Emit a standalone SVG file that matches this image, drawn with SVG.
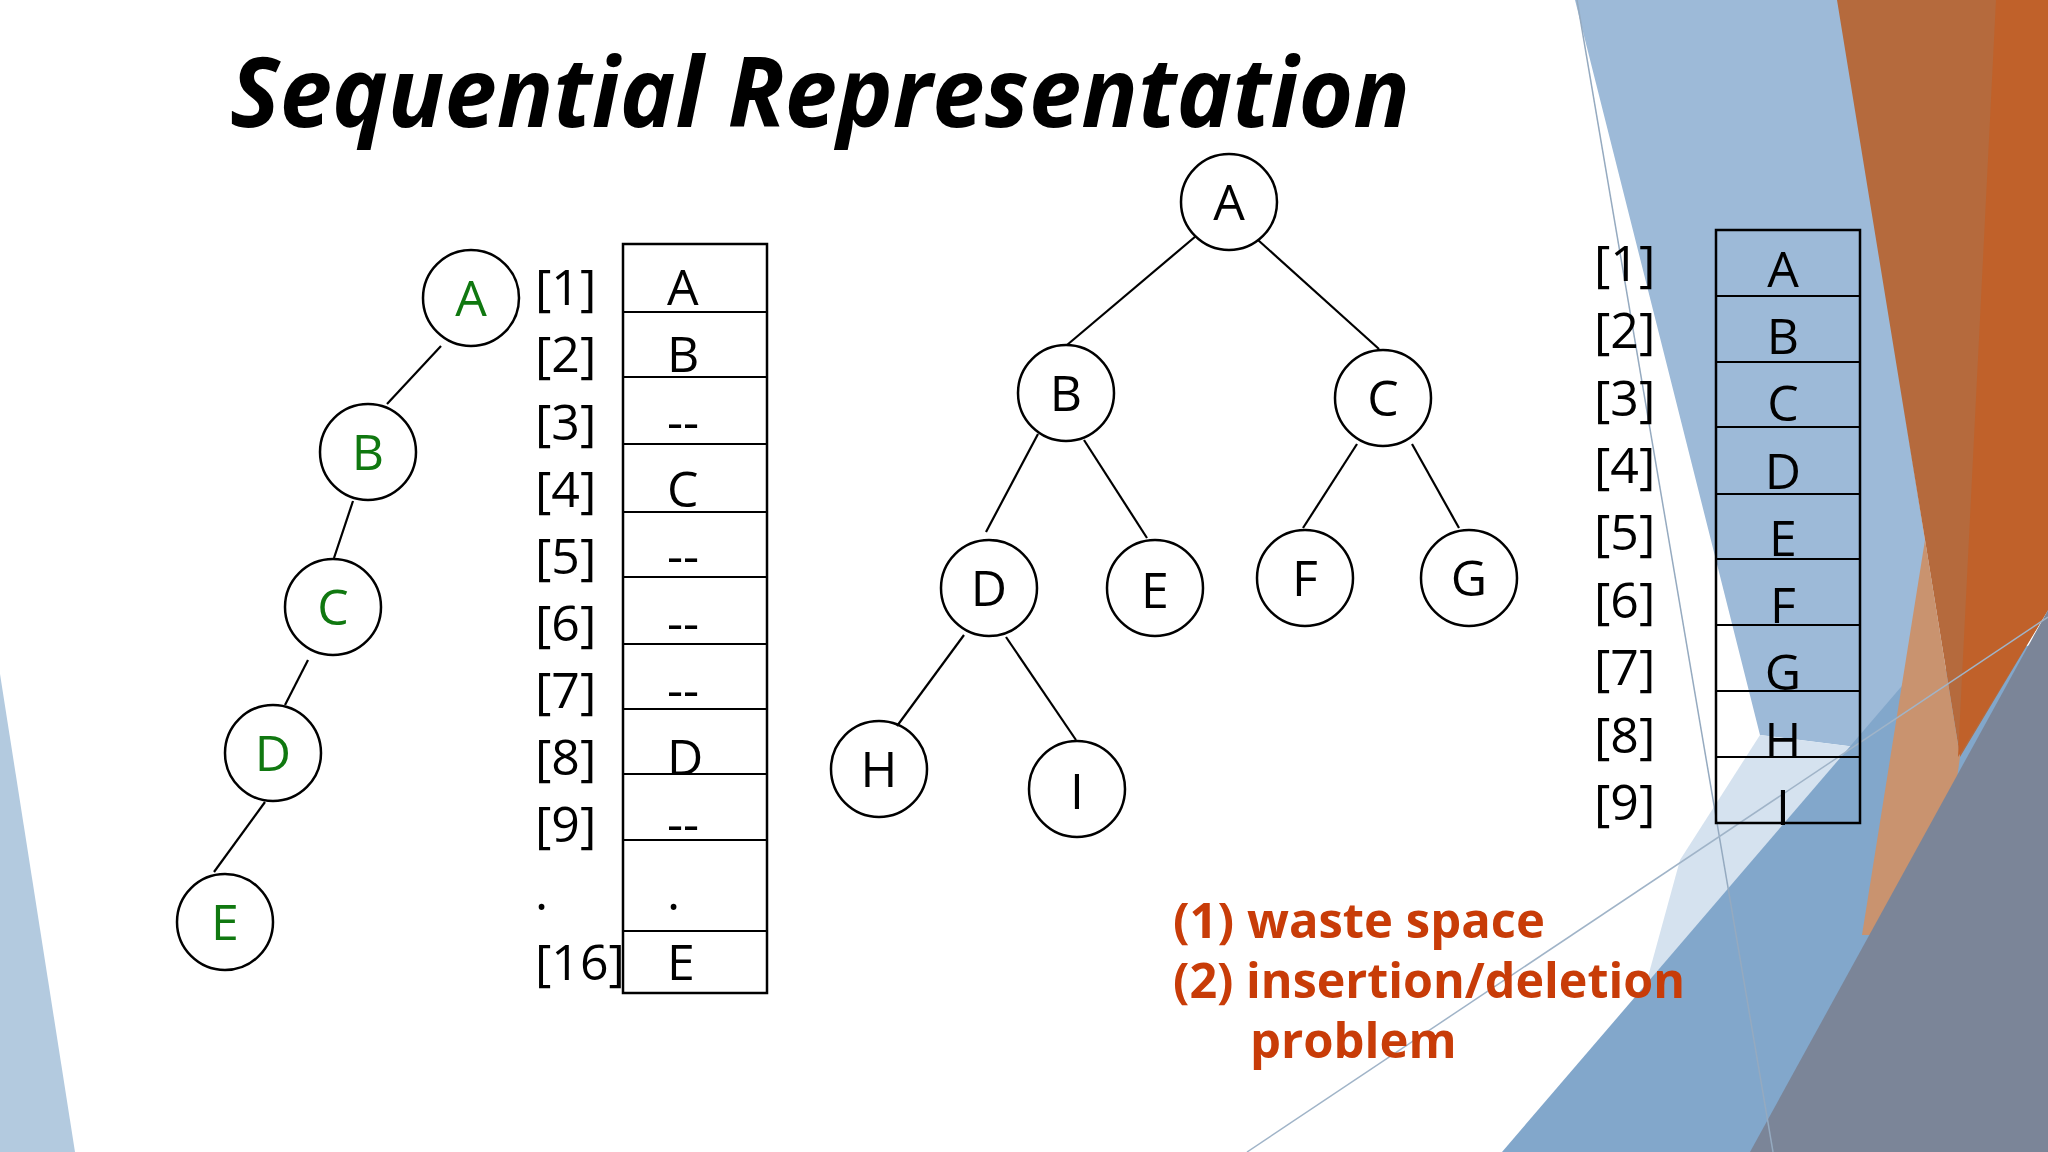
<svg xmlns="http://www.w3.org/2000/svg" width="2048" height="1152" viewBox="0 0 2048 1152">
<style>
.t{font-family:"Open Sans","DejaVu Sans",sans-serif;fill:#000}
.n{fill:none;stroke:#000;stroke-width:2.5}
.l{font-size:50px;text-anchor:middle}
.g{fill:#107810}
.e{stroke:#000;stroke-width:2.2}
.c{fill:none;stroke:#000;stroke-width:2.5}
.ix{font-size:50px}
.o{font-family:"Open Sans","DejaVu Sans",sans-serif;font-size:49px;font-weight:bold;fill:#c83c08}
</style>
<rect width="2048" height="1152" fill="#fff"/>
<g id="background">
<polygon points="0,674 75,1152 0,1152" fill="#b3cadf"/>
<polygon points="1575,0 1840,0 1925,540 1960,760 1760,735" fill="#9dbad8"/>
<polygon points="1680,860 1760,735 1960,760 1930,940 1700,1152 1600,1152" fill="#d5e2ef"/>
<polygon points="1502,1152 1907,680 2048,640 2048,1152" fill="#82a7cb"/>
<polygon points="1837,0 2048,0 2048,610 1960,757 1925,540" fill="#b56a3d"/>
<polygon points="1925,540 1960,757 1935,935 1862,935" fill="#c9936f"/>
<polygon points="1996,0 2048,0 2048,610 1958,757" fill="#c0612a"/>
<polygon points="2048,610 1750,1152 2048,1152" fill="#7b8598"/>
<line x1="1577" y1="0" x2="1773" y2="1152" stroke="#95aac0" stroke-width="1.5"/>
<line x1="1247" y1="1152" x2="2048" y2="617" stroke="#a0b4c8" stroke-width="1.5"/>
</g>
<text class="t" x="230" y="127" font-size="96" font-weight="bold" font-style="italic" textLength="1180" lengthAdjust="spacingAndGlyphs">Sequential Representation</text>
<g id="connectors">
<line class="e" x1="441" y1="346" x2="387" y2="404"/>
<line class="e" x1="353" y1="501" x2="334" y2="558"/>
<line class="e" x1="308" y1="660" x2="285" y2="705"/>
<line class="e" x1="265" y1="802" x2="214" y2="872"/>
<line class="e" x1="1196" y1="236" x2="1067" y2="345"/>
<line class="e" x1="1258" y1="240" x2="1379" y2="349"/>
<line class="e" x1="1038" y1="434" x2="986" y2="532"/>
<line class="e" x1="1084" y1="440" x2="1147" y2="538"/>
<line class="e" x1="1357" y1="444" x2="1303" y2="528"/>
<line class="e" x1="1412" y1="444" x2="1459" y2="528"/>
<line class="e" x1="964" y1="635" x2="897" y2="726"/>
<line class="e" x1="1006" y1="637" x2="1076" y2="740"/>
</g>
<g id="lA"><circle class="n" cx="471" cy="298" r="48"/><text class="t l g" x="471" y="316">A</text></g>
<g id="lB"><circle class="n" cx="368" cy="452" r="48"/><text class="t l g" x="368" y="470">B</text></g>
<g id="lC"><circle class="n" cx="333" cy="607" r="48"/><text class="t l g" x="333" y="625">C</text></g>
<g id="lD"><circle class="n" cx="273" cy="753" r="48"/><text class="t l g" x="273" y="771">D</text></g>
<g id="lE"><circle class="n" cx="225" cy="922" r="48"/><text class="t l g" x="225" y="940">E</text></g>
<g id="left-array">
<rect class="c" x="623" y="244" width="144" height="749"/>
<path class="e" d="M623 312H767M623 377H767M623 444H767M623 512H767M623 577H767M623 644H767M623 709H767M623 774H767M623 840H767M623 931H767"/>
<g class="t ix">
<text x="535" y="305">[1]</text><text x="535" y="372">[2]</text><text x="535" y="440">[3]</text><text x="535" y="507">[4]</text><text x="535" y="574">[5]</text><text x="535" y="641">[6]</text><text x="535" y="708">[7]</text><text x="535" y="775">[8]</text><text x="535" y="842">[9]</text><text x="535" y="910">.</text><text x="535" y="980">[16]</text>
<text x="667" y="305">A</text><text x="667" y="372">B</text><text x="667" y="440">--</text><text x="667" y="507">C</text><text x="667" y="574">--</text><text x="667" y="641">--</text><text x="667" y="708">--</text><text x="667" y="775">D</text><text x="667" y="842">--</text><text x="667" y="910">.</text><text x="667" y="980">E</text>
</g>
</g>
<g id="mA"><circle class="n" cx="1229" cy="202" r="48"/><text class="t l" x="1229" y="220">A</text></g>
<g id="mB"><circle class="n" cx="1066" cy="393" r="48"/><text class="t l" x="1066" y="411">B</text></g>
<g id="mC"><circle class="n" cx="1383" cy="398" r="48"/><text class="t l" x="1383" y="416">C</text></g>
<g id="mD"><circle class="n" cx="989" cy="588" r="48"/><text class="t l" x="989" y="606">D</text></g>
<g id="mE"><circle class="n" cx="1155" cy="588" r="48"/><text class="t l" x="1155" y="608">E</text></g>
<g id="mF"><circle class="n" cx="1305" cy="578" r="48"/><text class="t l" x="1305" y="596">F</text></g>
<g id="mG"><circle class="n" cx="1469" cy="578" r="48"/><text class="t l" x="1469" y="596">G</text></g>
<g id="mH"><circle class="n" cx="879" cy="769" r="48"/><text class="t l" x="879" y="787">H</text></g>
<g id="mI"><circle class="n" cx="1077" cy="789" r="48"/><text class="t l" x="1077" y="809">I</text></g>
<g id="right-array">
<rect class="c" x="1716" y="230" width="144" height="593"/>
<path class="e" d="M1716 296H1860M1716 362H1860M1716 427H1860M1716 494H1860M1716 559H1860M1716 625H1860M1716 691H1860M1716 757H1860"/>
<g class="t ix">
<text x="1594" y="281">[1]</text><text x="1594" y="348">[2]</text><text x="1594" y="416">[3]</text><text x="1594" y="483">[4]</text><text x="1594" y="550">[5]</text><text x="1594" y="618">[6]</text><text x="1594" y="685">[7]</text><text x="1594" y="753">[8]</text><text x="1594" y="820">[9]</text>
</g>
<g class="t l">
<text x="1783" y="287">A</text><text x="1783" y="354">B</text><text x="1783" y="421">C</text><text x="1783" y="489">D</text><text x="1783" y="556">E</text><text x="1783" y="623">F</text><text x="1783" y="690">G</text><text x="1783" y="758">H</text><text x="1783" y="825">I</text>
</g>
</g>
<g id="notes">
<text class="o" x="1173" y="938">(1) waste space</text>
<text class="o" x="1173" y="998" textLength="512" lengthAdjust="spacingAndGlyphs">(2) insertion/deletion</text>
<text class="o" x="1250" y="1058">problem</text>
</g>
</svg>
